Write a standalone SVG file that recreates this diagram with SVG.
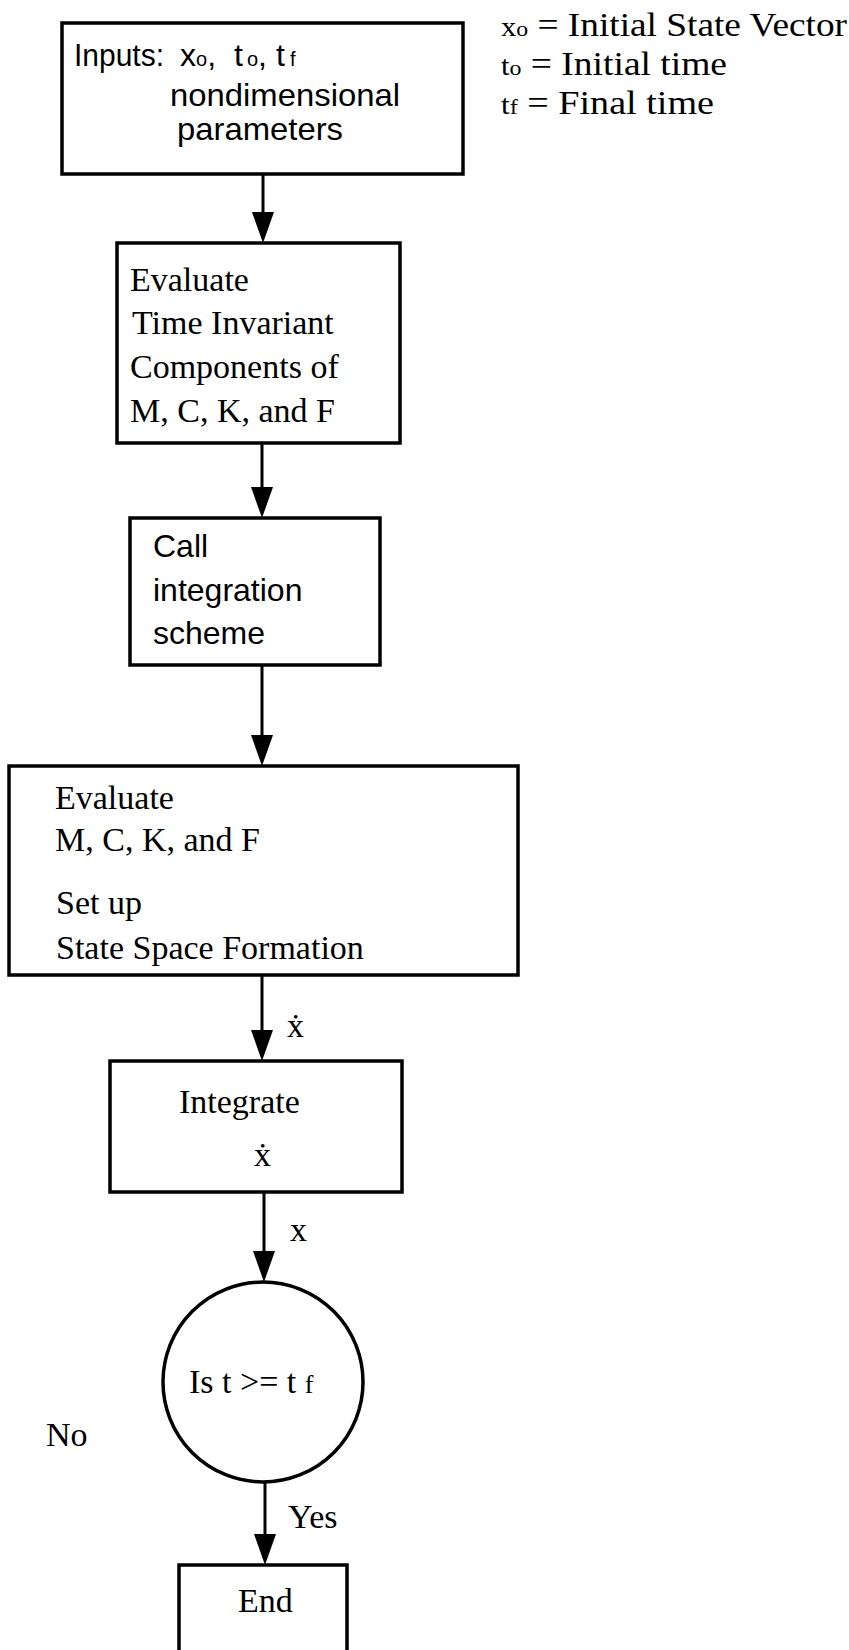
<svg xmlns="http://www.w3.org/2000/svg" width="849" height="1650" viewBox="0 0 849 1650">
<defs>
<style>
.box{fill:#fff;stroke:#000;stroke-width:3.5}
.ln{stroke:#000;stroke-width:3;fill:none}
.serif{font-family:"Liberation Serif","DejaVu Serif",serif;font-size:34px;fill:#000}
.leg{font-family:"Liberation Serif","DejaVu Serif",serif;font-size:33px;fill:#000}
.sans{font-family:"Liberation Sans","DejaVu Sans",sans-serif;font-size:32px;fill:#000}
</style>
<marker id="ah" markerWidth="32" markerHeight="22" refX="25" refY="11" orient="auto" markerUnits="userSpaceOnUse" viewBox="0 0 32 22">
<path d="M0,0 L31,11 L0,22 Z" fill="#000"/>
</marker>
</defs>
<rect width="849" height="1650" fill="#fff"/>

<g id="legend">
<text class="leg" x="501" y="36" textLength="346" lengthAdjust="spacingAndGlyphs"><tspan font-size="27">x</tspan><tspan font-size="21">o</tspan> = Initial State Vector</text>
<text class="leg" x="501" y="75" textLength="226" lengthAdjust="spacingAndGlyphs"><tspan font-size="27">t</tspan><tspan font-size="21">o</tspan> = Initial time</text>
<text class="leg" x="501" y="114" textLength="213" lengthAdjust="spacingAndGlyphs"><tspan font-size="27">t</tspan><tspan font-size="21">f</tspan> = Final time</text>
</g>

<g id="connectors">
<line class="ln" x1="263" y1="174" x2="263" y2="237" marker-end="url(#ah)"/>
<line class="ln" x1="262" y1="443" x2="262" y2="512" marker-end="url(#ah)"/>
<line class="ln" x1="262" y1="665" x2="262" y2="760" marker-end="url(#ah)"/>
<line class="ln" x1="262" y1="975" x2="262" y2="1055" marker-end="url(#ah)"/>
<text class="serif" x="287" y="1037">ẋ</text>
<line class="ln" x1="264" y1="1192" x2="264" y2="1276" marker-end="url(#ah)"/>
<text class="serif" x="290" y="1241">x</text>
<line class="ln" x1="265" y1="1482" x2="265" y2="1559" marker-end="url(#ah)"/>
<text class="serif" x="288" y="1528">Yes</text>
<text class="serif" x="46" y="1446">No</text>
</g>

<g id="inputs">
<rect class="box" x="62" y="23" width="401" height="151"/>
<text class="sans" x="74" y="66" textLength="90" lengthAdjust="spacingAndGlyphs">Inputs:</text>
<text class="sans" x="180" y="66" font-size="25">x<tspan font-size="20">o</tspan>,</text>
<text class="sans" x="234" y="66" font-size="25">t<tspan font-size="20" dx="4">o</tspan>,</text>
<text class="sans" x="276" y="66" font-size="25">t<tspan font-size="20" dx="5">f</tspan></text>
<text class="sans" x="170" y="106" textLength="230" lengthAdjust="spacingAndGlyphs">nondimensional</text>
<text class="sans" x="177" y="140" textLength="166" lengthAdjust="spacingAndGlyphs">parameters</text>
</g>

<g id="eval-invariant">
<rect class="box" x="117" y="243" width="283" height="200"/>
<text class="serif" x="130" y="291">Evaluate</text>
<text class="serif" x="132" y="334">Time Invariant</text>
<text class="serif" x="130" y="378">Components of</text>
<text class="serif" x="130" y="422">M, C, K, and F</text>
</g>

<g id="call-integration">
<rect class="box" x="130" y="518" width="250" height="147"/>
<text class="sans" x="153" y="557">Call</text>
<text class="sans" x="153" y="601">integration</text>
<text class="sans" x="153" y="644">scheme</text>
</g>

<g id="eval-state-space">
<rect class="box" x="9" y="766" width="509" height="209"/>
<text class="serif" x="55" y="809">Evaluate</text>
<text class="serif" x="55" y="851">M, C, K, and F</text>
<text class="serif" x="56" y="914">Set up</text>
<text class="serif" x="56" y="959">State Space Formation</text>
</g>

<g id="integrate">
<rect class="box" x="110" y="1061" width="292" height="131"/>
<text class="serif" x="179" y="1113">Integrate</text>
<text class="serif" x="254" y="1166">ẋ</text>
</g>

<g id="decision">
<circle cx="263" cy="1382" r="100" fill="#fff" stroke="#000" stroke-width="3.5"/>
<text class="serif" x="189" y="1393">Is t &gt;= t <tspan font-size="26">f</tspan></text>
</g>

<g id="end">
<rect class="box" x="179" y="1565" width="168" height="120"/>
<text class="serif" x="238" y="1612">End</text>
</g>
</svg>
